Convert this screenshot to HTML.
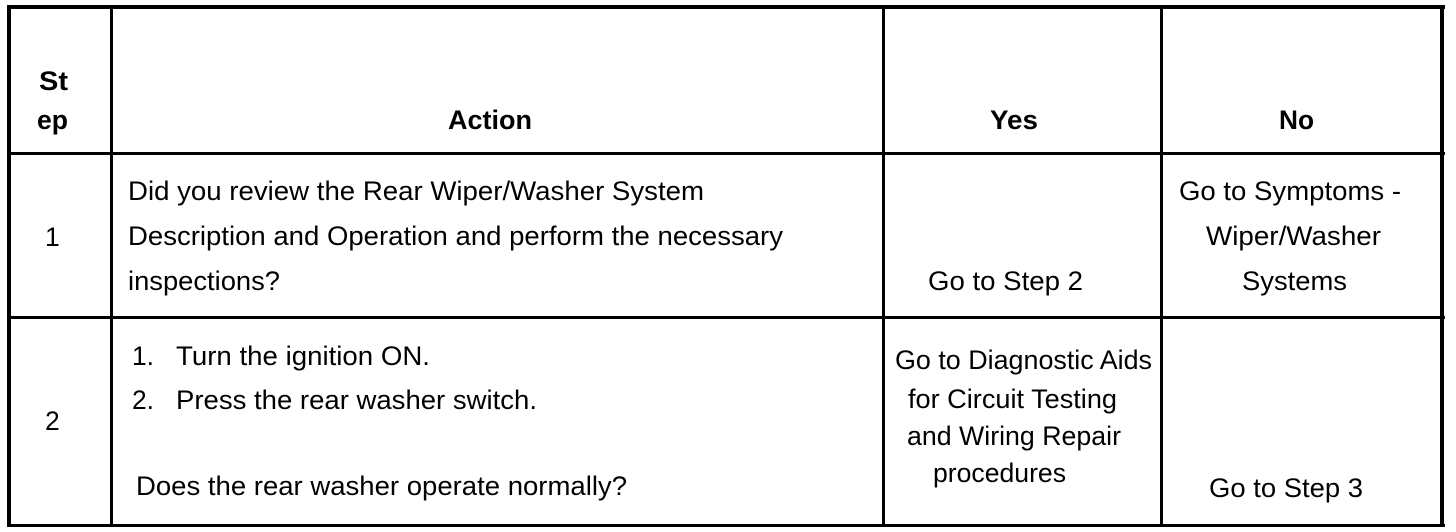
<!DOCTYPE html>
<html lang="en">
<head>
<meta charset="utf-8">
<title>Rear washer diagnostic table</title>
<style>
html,body{margin:0;padding:0;background:#fff;width:1456px;height:532px;overflow:hidden}
svg{display:block}
text{font-family:"Liberation Sans",Arial,sans-serif;font-size:26.5px;fill:#000}
.b{font-weight:bold}
</style>
</head>
<body>
<svg width="1456" height="532" viewBox="0 0 1456 532" xmlns="http://www.w3.org/2000/svg">
<rect width="1456" height="532" fill="#fff"/>
<g fill="#000">
<rect x="7" y="5" width="1438" height="4"/>
<rect x="7" y="152" width="1438" height="3"/>
<rect x="7" y="316" width="1438" height="3"/>
<rect x="7" y="524" width="1438" height="3"/>
<rect x="7" y="5" width="4" height="522"/>
<rect x="110" y="5" width="3" height="522"/>
<rect x="882" y="5" width="3" height="522"/>
<rect x="1160" y="5" width="3" height="522"/>
<rect x="1440" y="5" width="4" height="522"/>
</g>
<g lengthAdjust="spacingAndGlyphs">
<text class="b" x="39" y="90" textLength="29" lengthAdjust="spacingAndGlyphs">St</text>
<text class="b" x="37" y="129" textLength="31" lengthAdjust="spacingAndGlyphs">ep</text>
<text class="b" x="448" y="129" textLength="84" lengthAdjust="spacingAndGlyphs">Action</text>
<text class="b" x="990" y="129" textLength="48" lengthAdjust="spacingAndGlyphs">Yes</text>
<text class="b" x="1279" y="129" textLength="35" lengthAdjust="spacingAndGlyphs">No</text>

<text x="45" y="246">1</text>
<text x="128" y="200" textLength="576" lengthAdjust="spacingAndGlyphs">Did you review the Rear Wiper/Washer System</text>
<text x="128" y="245" textLength="655" lengthAdjust="spacingAndGlyphs">Description and Operation and perform the necessary</text>
<text x="128" y="290" textLength="152" lengthAdjust="spacingAndGlyphs">inspections?</text>
<text x="928" y="290" textLength="155" lengthAdjust="spacingAndGlyphs">Go to Step 2</text>
<text x="1179" y="200" textLength="222" lengthAdjust="spacingAndGlyphs">Go to Symptoms -</text>
<text x="1206" y="245" textLength="175" lengthAdjust="spacingAndGlyphs">Wiper/Washer</text>
<text x="1242" y="290" textLength="105" lengthAdjust="spacingAndGlyphs">Systems</text>

<text x="45" y="430">2</text>
<text x="132" y="365" textLength="22" lengthAdjust="spacingAndGlyphs">1.</text>
<text x="176" y="365" textLength="254" lengthAdjust="spacingAndGlyphs">Turn the ignition ON.</text>
<text x="132" y="409" textLength="22" lengthAdjust="spacingAndGlyphs">2.</text>
<text x="176" y="409" textLength="361" lengthAdjust="spacingAndGlyphs">Press the rear washer switch.</text>
<text x="136" y="495" textLength="491" lengthAdjust="spacingAndGlyphs">Does the rear washer operate normally?</text>
<text x="895" y="369" textLength="257" lengthAdjust="spacingAndGlyphs">Go to Diagnostic Aids</text>
<text x="908" y="408" textLength="209" lengthAdjust="spacingAndGlyphs">for Circuit Testing</text>
<text x="907" y="445" textLength="214" lengthAdjust="spacingAndGlyphs">and Wiring Repair</text>
<text x="933" y="482" textLength="133" lengthAdjust="spacingAndGlyphs">procedures</text>
<text x="1209" y="497" textLength="154" lengthAdjust="spacingAndGlyphs">Go to Step 3</text>
</g>
</svg>
</body>
</html>
